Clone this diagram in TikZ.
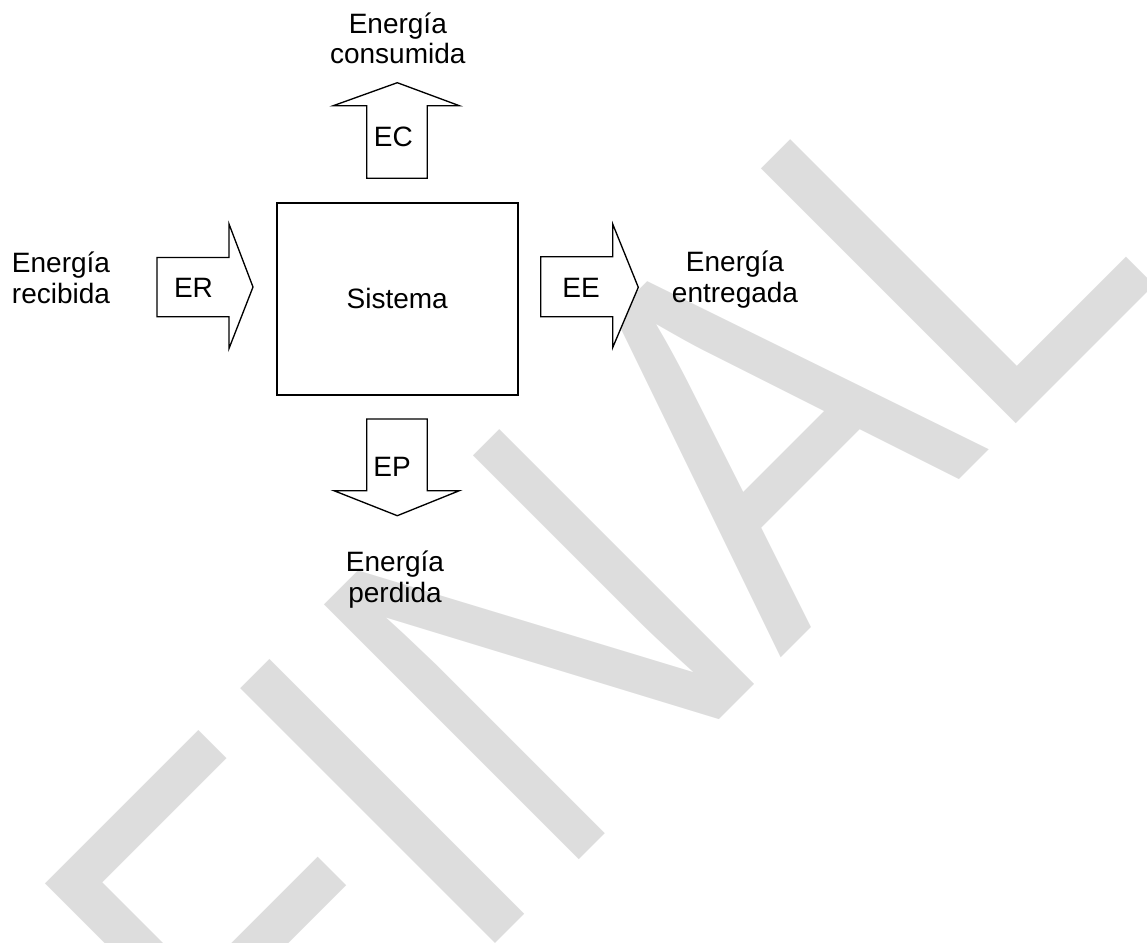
\documentclass[tikz,border=0pt]{standalone}
\usepackage{fontspec}
\setmainfont{Liberation Sans}
\definecolor{wmgray}{RGB}{221,221,221}
\begin{document}
\begin{tikzpicture}[x=0.75pt,y=-0.75pt,
  lbl/.style={font=\fontsize{21}{23}\selectfont, inner sep=0pt},
  caption/.style={lbl, anchor=base},
  blockarrow/.style={draw=black, fill=white, line width=1pt, line join=miter},
  sysbox/.style={draw=black, fill=white, line width=1.2pt, lbl,
                 minimum width=180.75pt, minimum height=144.2pt},
  watermark/.style={text=wmgray, inner sep=0pt,
                    font=\fontsize{333}{333}\selectfont}]
\useasboundingbox (0,0) rectangle (1147,943);

% diagonal watermark in the background
\begin{scope}
  \clip (0,0) rectangle (1147,943);
  \node[watermark, rotate=45, yscale=1.18, anchor=base] (wm) at (719.75,719.75) {FINAL};
\end{scope}

% the system
\node[sysbox] (sys) at (397.2,298.85) {Sistema};

% received energy (in)
\draw[blockarrow] (157,257.5) coordinate (erTail) -- (229,257.5) -- (229,224)
  -- (253,287) coordinate (erTip) -- (229,348.5) -- (229,316.7) -- (157,316.7) -- cycle;
\node[lbl, anchor=base] (er) at (193.5,297.3) {ER};

% delivered energy (out)
\draw[blockarrow] (540.7,256.7) coordinate (eeTail) -- (612.7,256.7) -- (612.7,224)
  -- (638.3,287.3) coordinate (eeTip) -- (612.7,347.5) -- (612.7,316.7) -- (540.7,316.7) -- cycle;
\node[lbl, anchor=base] (ee) at (581,297.8) {EE};

% consumed energy (up)
\draw[blockarrow] (366.7,178.3) coordinate (ecTail) -- (366.7,105.7) -- (333.3,105.7)
  -- (397.3,82.7) coordinate (ecTip) -- (459.3,105.7) -- (427.3,105.7) -- (427.3,178.3) -- cycle;
\node[lbl, anchor=base] (ec) at (393.3,146) {EC};

% lost energy (down)
\draw[blockarrow] (366.7,419) coordinate (epTail) -- (366.7,490.7) -- (334,490.7)
  -- (397.3,515.7) coordinate (epTip) -- (459.3,490.7) -- (427.3,490.7) -- (427.3,419) -- cycle;
\node[lbl, anchor=base] (ep) at (392,476) {EP};

% captions
\node[caption] (rec) at (61,272.7)
  {\begin{tabular}[t]{@{}c@{}}Energía\\recibida\end{tabular}};
\node[caption] (con) at (397.8,33)
  {\begin{tabular}[t]{@{}c@{}}Energía\\consumida\end{tabular}};
\node[caption] (ent) at (735,271.7)
  {\begin{tabular}[t]{@{}c@{}}Energía\\entregada\end{tabular}};
\node[caption] (per) at (395,571.7)
  {\begin{tabular}[t]{@{}c@{}}Energía\\perdida\end{tabular}};
\end{tikzpicture}
\end{document}
